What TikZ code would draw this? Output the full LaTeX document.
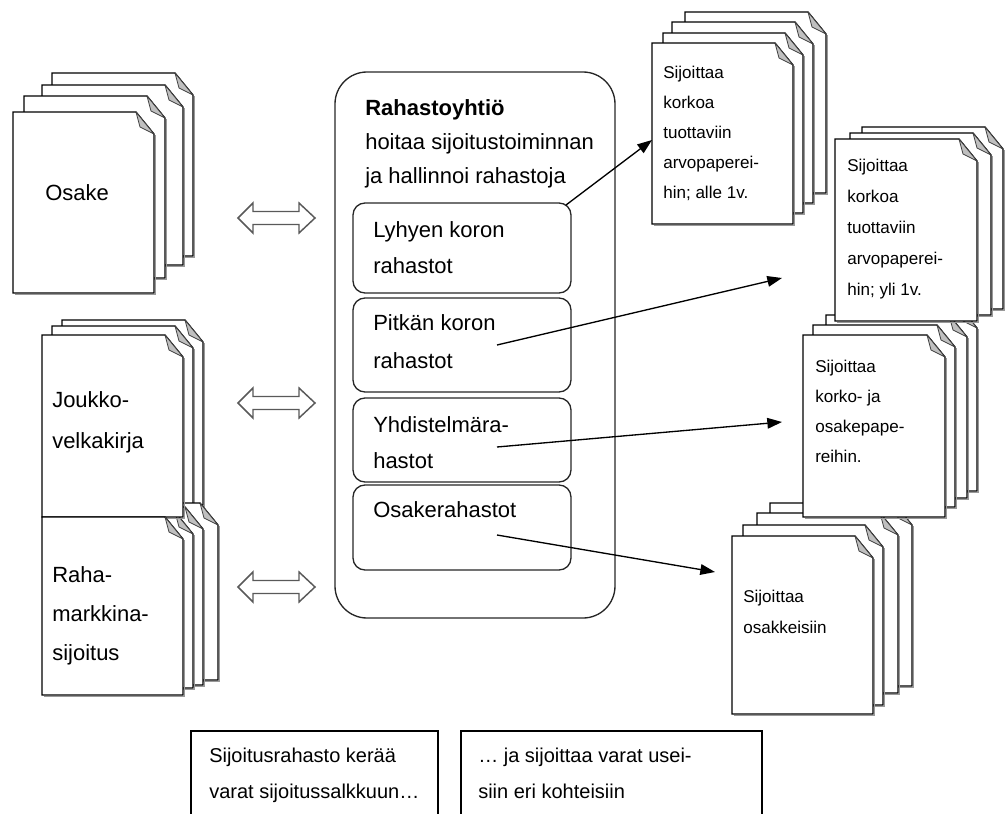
\documentclass[tikz,border=0pt]{standalone}
\usepackage{fontspec}
\setmainfont{Liberation Sans}
\usetikzlibrary{arrows.meta,fit}
\tikzset{
  pg/.style={draw=black, fill=white, line width=1pt, line join=miter},
  pgshadow/.style={draw=black!40, line width=1.3pt},
  fold/.style={draw=black!75, fill=black!25, line width=0.6pt, line join=round},
  rbox/.style={draw=black!85, line width=1pt, rounded corners=9pt, inner sep=0pt},
  obox/.style={draw=black!85, line width=1pt, rounded corners=24pt, inner sep=0pt},
  sbox/.style={draw=black, line width=1pt, inner sep=0pt},
  conn/.style={draw=black, line width=1pt, -{Triangle[length=11pt,width=8pt]}},
  dbl/.style={draw=black!65, fill=white, line width=1.1pt, line join=miter},
  lt/.style={anchor=base west, align=left, inner sep=0pt, font=\fontsize{16.5}{29}\selectfont},
  rt/.style={anchor=base west, align=left, inner sep=0pt, font=\fontsize{12.8}{22.5}\selectfont},
  bt/.style={anchor=base west, align=left, inner sep=0pt, font=\fontsize{15}{27}\selectfont},
}
\newcommand{\docpage}[4]{%
  \draw[pgshadow] ({#3+1.5},{#2+23}) -- ({#3+1.5},{#4+1.5}) -- ({#1+1.5},{#4+1.5});
  \draw[pg] (#1,#2) -- ({#3-18},#2) -- (#3,{#2+22}) -- (#3,#4) -- (#1,#4) -- cycle;
  \draw[fold] ({#3-18},#2) -- (#3,{#2+22}) -- ({#3-14},{#2+15}) -- cycle;
}
\newcommand{\dblarrow}[1]{%
  \draw[dbl] (238,#1) -- (253,{#1-15}) -- (253,{#1-6.5}) -- (299,{#1-6.5}) -- (299,{#1-15})
    -- (315,#1) -- (299,{#1+15}) -- (299,{#1+6.5}) -- (253,{#1+6.5}) -- (253,{#1+15}) -- cycle;
}
\begin{document}
\begin{tikzpicture}[x=0.75pt,y=-0.75pt]
\useasboundingbox (0,0) rectangle (1008,814);
\clip (0,0) rectangle (1008,814);

% ---- left stacks ----
\docpage{52}{73}{193}{256}
\docpage{42}{85}{183}{265}
\docpage{24}{96}{165}{278}
\docpage{13}{112}{154}{293}
\node[lt] (osake) at (45,200) {Osake};

\docpage{62}{320}{203}{505}
\docpage{52}{326}{193}{510}
\docpage{77}{503}{218}{680}
\docpage{62}{507}{203}{685}
\docpage{52}{512}{193}{688}
\docpage{42}{335}{183}{517}
\docpage{42}{517}{183}{695}
% multi-line nodes: the base anchor is the baseline of the last line
\node[lt, font=\fontsize{16.5}{30.75}\selectfont] (joukko) at (52,448) {Joukko-\\velkakirja};
\node[lt, font=\fontsize{16.5}{29.25}\selectfont] (raha) at (52,660) {Raha-\\markkina-\\sijoitus};

% ---- double arrows ----
\dblarrow{218}
\dblarrow{403}
\dblarrow{587}

% ---- centre box ----
\node[obox, fit={(335,72) (615,618)}] (outer) {};
\node[lt, font=\fontsize{16.5}{25.5}\selectfont] (hdr) at (365,183)
  {\textbf{Rahastoyhtiö}\\hoitaa sijoitustoiminnan\\ja hallinnoi rahastoja};
\node[rbox, fit={(353,203) (571,293)}] (b1) {};
\node[rbox, fit={(353,298) (571,392)}] (b2) {};
\node[rbox, fit={(353,398) (571,482)}] (b3) {};
\node[rbox, fit={(353,485) (571,570)}] (b4) {};
\node[lt, font=\fontsize{16.5}{27}\selectfont] (t1) at (373,273) {Lyhyen koron\\rahastot};
\node[lt, font=\fontsize{16.5}{28.5}\selectfont] (t2) at (373,368) {Pitkän koron\\rahastot};
\node[lt, font=\fontsize{16.5}{27}\selectfont] (t3) at (373,468) {Yhdistelmära-\\hastot};
\node[lt] (t4) at (373,517) {Osakerahastot};

% ---- right stacks ----
\docpage{770}{503}{912}{686}
\docpage{757}{513}{898}{693}
\docpage{743}{525}{883}{705}
\docpage{732}{536}{873}{714}
\node[rt, font=\fontsize{12.8}{23.25}\selectfont] (rd) at (743,633) {Sijoittaa\\osakkeisiin};

\docpage{838}{306}{977}{491}
\docpage{826}{315}{967}{498}
\docpage{813}{325}{955}{507}
\docpage{803}{335}{945}{517}
\node[rt] (rc) at (815,462) {Sijoittaa\\korko- ja\\osakepape-\\reihin.};

\docpage{862}{127}{1003}{309}
\docpage{850}{133}{991}{315}
\docpage{835}{139}{977}{321}
\node[rt, font=\fontsize{12.8}{23.1}\selectfont] (rb) at (847,295) {Sijoittaa\\korkoa\\tuottaviin\\arvopaperei-\\hin; yli 1v.};

\docpage{685}{12}{826}{193}
\docpage{672}{22}{813}{203}
\docpage{663}{33}{803}{213}
\docpage{652}{43}{793}{224}
\node[rt] (ra) at (663,198) {Sijoittaa\\korkoa\\tuottaviin\\arvopaperei-\\hin; alle 1v.};

% ---- connectors ----
\coordinate (s1) at (566,205);
\coordinate (s2) at (497,345);
\coordinate (s3) at (497,447);
\coordinate (s4) at (497,535);
\coordinate (e1) at (652,140);
\coordinate (e2) at (782,278);
\coordinate (e3) at (782,422);
\coordinate (e4) at (715,572);
\draw[conn] (s1) -- (e1);
\draw[conn] (s2) -- (e2);
\draw[conn] (s3) -- (e3);
\draw[conn] (s4) -- (e4);

% ---- bottom boxes ----
\node[sbox, fit={(191,731) (438,830)}] (k1) {};
\node[sbox, fit={(461,731) (762,830)}] (k2) {};
\node[bt] (kt1) at (209,798) {Sijoitusrahasto kerää\\varat sijoitussalkkuun…};
\node[bt] (kt2) at (478,798) {… ja sijoittaa varat usei-\\siin eri kohteisiin};
\end{tikzpicture}
\end{document}
